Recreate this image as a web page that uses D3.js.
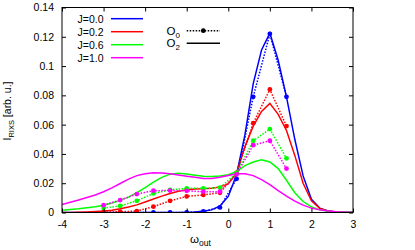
<!DOCTYPE html>
<html>
<head>
<meta charset="utf-8">
<script src="https://cdn.jsdelivr.net/npm/d3@7"></script>
<style>
  body { margin: 0; background: #fff; }
  svg { display: block; font-family: "Liberation Sans", Arial, sans-serif; }
</style>
</head>
<body>
<div id="chart"></div>
<script>
// series names / colours
const jLabels = ["J=0.0", "J=0.2", "J=0.6", "J=1.0"];
const colors = ["#0000ff", "#ff0000", "#00ff00", "#ff00ff"];

// O0: sampled points (dotted with dots)
const omegaO0 = [-3, -2.6, -2.2, -1.8, -1.4, -1, -0.6, -0.2, 0.2, 0.6, 1.0, 1.4];
const o0J00 = [0, 0, 0, 0, 0, 0, 0.0008, 0.0035, 0.023, 0.079, 0.122, 0.079];
const o0J02 = [0.0003, 0.0005, 0.001, 0.004, 0.008, 0.011, 0.012, 0.0135, 0.027, 0.061, 0.084, 0.059];
const o0J06 = [0.003, 0.0045, 0.008, 0.013, 0.0155, 0.0165, 0.0165, 0.017, 0.027, 0.049, 0.057, 0.037];
const o0J10 = [0.005, 0.0085, 0.0126, 0.0149, 0.015, 0.0148, 0.0142, 0.0142, 0.026, 0.046, 0.049, 0.030];

// O2: continuous curves (solid)
const omegaO2 = [-4, -3.8, -3.6, -3.4, -3.2, -3, -2.8, -2.6, -2.4, -2.2, -2, -1.8, -1.6, -1.4, -1.2, -1,
  -0.8, -0.6, -0.4, -0.2, 0, 0.2, 0.4, 0.6, 0.8, 1.0, 1.2, 1.4, 1.6, 1.8, 2.0, 2.2, 2.4, 2.6, 2.8, 3.0];
const o2J00 = [0, 0, 0, 0, 0, 0, 0, 0, 0, 0, 0, 0, 0, 0, 0, 0.0002,
  0.0004, 0.0008, 0.0018, 0.0045, 0.011, 0.026, 0.053, 0.088, 0.111, 0.1225, 0.104, 0.079, 0.05, 0.025, 0.009, 0.003, 0.001, 0.0003, 0.0001, 0];
const o2J02 = [0, 0, 0.0002, 0.0004, 0.0007, 0.001, 0.0016, 0.0025, 0.0037, 0.0052, 0.0072, 0.0092, 0.0112, 0.013, 0.0145, 0.0155,
  0.016, 0.0162, 0.0165, 0.0175, 0.0195, 0.027, 0.045, 0.059, 0.069, 0.0745, 0.067, 0.056, 0.039, 0.02, 0.008, 0.0028, 0.001, 0.0003, 0.0001, 0];
const o2J06 = [0.0015, 0.002, 0.0025, 0.0032, 0.004, 0.005, 0.0065, 0.0083, 0.0105, 0.0135, 0.017, 0.0208, 0.024, 0.0262, 0.0268, 0.0263,
  0.0255, 0.0248, 0.0246, 0.025, 0.0258, 0.028, 0.032, 0.0345, 0.036, 0.0345, 0.03, 0.022, 0.0135, 0.0075, 0.0038, 0.0018, 0.0009, 0.0004, 0.0002, 0.0001];
const o2J10 = [0.0055, 0.007, 0.0085, 0.0102, 0.012, 0.0142, 0.0168, 0.0198, 0.0228, 0.0252, 0.0265, 0.0272, 0.027, 0.0264, 0.0256, 0.0248,
  0.024, 0.0232, 0.0232, 0.024, 0.0252, 0.0265, 0.0265, 0.0252, 0.0225, 0.019, 0.015, 0.0112, 0.0078, 0.005, 0.003, 0.0018, 0.001, 0.0005, 0.0002, 0.0001];

// ticks
const xTicks = [-4, -3, -2, -1, 0, 1, 2, 3];
const xTickLabels = ["-4", "-3", "-2", "-1", "0", "1", "2", "3"];
const yTicks = [0, 0.02, 0.04, 0.06, 0.08, 0.1, 0.12, 0.14];
const yTickLabels = ["0", "0.02", "0.04", "0.06", "0.08", "0.1", "0.12", "0.14"];

const o0Series = [o0J00, o0J02, o0J06, o0J10];
const o2Series = [o2J00, o2J02, o2J06, o2J10];

const W = 415, H = 250;
const margin = { top: 7.5, right: 62, bottom: 37.5, left: 62 };
const width = W - margin.left - margin.right;
const height = H - margin.top - margin.bottom;

const svg = d3.select("#chart").append("svg")
  .attr("width", W).attr("height", H);
const g = svg.append("g")
  .attr("transform", `translate(${margin.left},${margin.top})`);

const x = d3.scaleLinear().domain([-4, 3]).range([0, width]);
const y = d3.scaleLinear().domain([0, 0.14]).range([height, 0]);

// clip to plot area
svg.append("defs").append("clipPath").attr("id", "clip")
  .append("rect").attr("width", width).attr("height", height);

const plot = g.append("g").attr("clip-path", "url(#clip)");

const line = d3.line().x(d => x(d[0])).y(d => y(d[1]));

// O2 solid curves
o2Series.forEach((vals, i) => {
  plot.append("path")
    .datum(omegaO2.map((w, k) => [w, vals[k]]))
    .attr("fill", "none")
    .attr("stroke", colors[i])
    .attr("stroke-width", 1.5)
    .attr("d", line);
});

// O0 dotted lines with points
o0Series.forEach((vals, i) => {
  const pts = omegaO0.map((w, k) => [w, vals[k]]);
  plot.append("path")
    .datum(pts)
    .attr("fill", "none")
    .attr("stroke", colors[i])
    .attr("stroke-width", 1.5)
    .attr("stroke-dasharray", "1.5,1.5")
    .attr("d", line);
  plot.selectAll(null)
    .data(pts)
    .enter().append("circle")
    .attr("cx", d => x(d[0]))
    .attr("cy", d => y(d[1]))
    .attr("r", 2.4)
    .attr("fill", colors[i]);
});

// axes (gnuplot style: inward ticks, mirrored)
const tickLen = 4;
const fs = 10.5;

const xAxisB = g.append("g").attr("transform", `translate(0,${height})`)
  .call(d3.axisBottom(x).tickValues(xTicks).tickSizeInner(-tickLen).tickSizeOuter(0).tickPadding(8)
    .tickFormat((d, i) => xTickLabels[i]));
const xAxisT = g.append("g")
  .call(d3.axisTop(x).tickValues(xTicks).tickSizeInner(-tickLen).tickSizeOuter(0).tickFormat(""));
const yAxisL = g.append("g")
  .call(d3.axisLeft(y).tickValues(yTicks).tickSizeInner(-tickLen).tickSizeOuter(0).tickPadding(8)
    .tickFormat((d, i) => yTickLabels[i]));
const yAxisR = g.append("g").attr("transform", `translate(${width},0)`)
  .call(d3.axisRight(y).tickValues(yTicks).tickSizeInner(-tickLen).tickSizeOuter(0).tickFormat(""));

[xAxisB, xAxisT, yAxisL, yAxisR].forEach(a => {
  a.select(".domain").remove();
  a.selectAll("line").attr("stroke", "#000");
  a.selectAll("text").attr("fill", "#000").attr("font-size", fs)
    .attr("font-family", "Liberation Sans, Arial, sans-serif");
});

// frame
g.append("rect")
  .attr("width", width).attr("height", height)
  .attr("fill", "none").attr("stroke", "#000").attr("stroke-width", 1);

// J legend
const legJ = svg.append("g");
jLabels.forEach((lab, i) => {
  const ly = 18.7 + i * 13;
  legJ.append("text")
    .attr("x", 103.5).attr("y", ly + 3.8)
    .attr("text-anchor", "end")
    .attr("font-size", fs)
    .text(lab);
  legJ.append("line")
    .attr("x1", 111).attr("x2", 143)
    .attr("y1", ly).attr("y2", ly)
    .attr("stroke", colors[i]).attr("stroke-width", 1.5);
});

// O0 / O2 legend
const legO = svg.append("g");
[["0", true], ["2", false]].forEach(([sub, dotted], i) => {
  const ly = 30.7 + i * 12.5;
  const t = legO.append("text")
    .attr("x", 180).attr("y", ly + 3.8)
    .attr("text-anchor", "end")
    .attr("font-size", fs + 1);
  t.append("tspan").text("O");
  t.append("tspan").attr("dy", 3).attr("font-size", 8).text(sub);
  const ln = legO.append("line")
    .attr("x1", 186.7).attr("x2", 220)
    .attr("y1", ly).attr("y2", ly)
    .attr("stroke", "#000").attr("stroke-width", 1.5);
  if (dotted) {
    ln.attr("stroke-dasharray", "1.5,1.5");
    legO.append("circle").attr("cx", 203.3).attr("cy", ly).attr("r", 2.4).attr("fill", "#000");
  }
});

// axis labels
const xl = svg.append("text")
  .attr("x", 190).attr("y", 243)
  .attr("font-size", 11.5);
xl.append("tspan").text("ω");
xl.append("tspan").attr("dy", 3).attr("font-size", 8.5).text("out");

const yl = svg.append("text")
  .attr("transform", "translate(11,111) rotate(-90)")
  .attr("text-anchor", "middle")
  .attr("font-size", fs);
yl.append("tspan").text("I");
yl.append("tspan").attr("dy", 3).attr("font-size", 7.5).text("RIXS");
yl.append("tspan").attr("dy", -3).text(" [arb. u.]");
</script>
</body>
</html>
